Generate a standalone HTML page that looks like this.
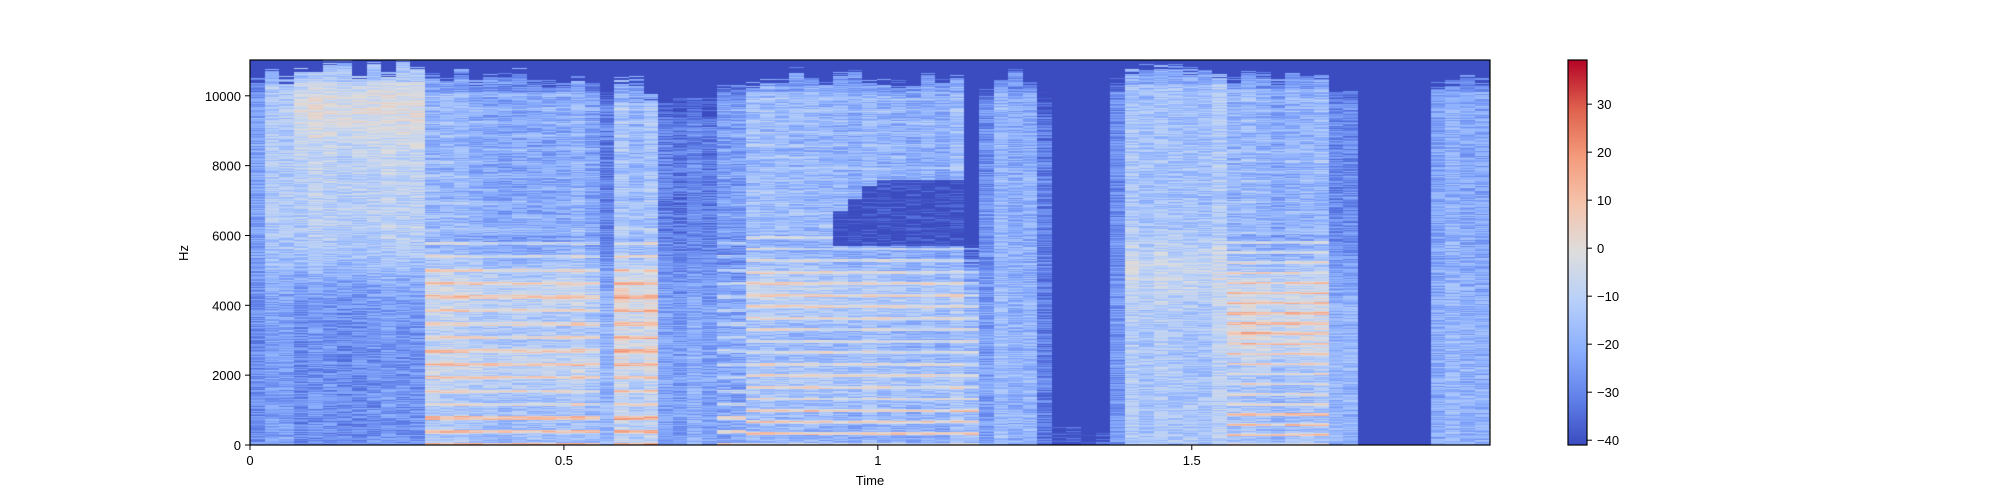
<!DOCTYPE html>
<html><head><meta charset="utf-8"><style>
html,body{margin:0;padding:0;background:#fff;}
#wrap{position:relative;width:2000px;height:500px;overflow:hidden;font-family:"Liberation Sans",sans-serif;}
#spec{position:absolute;left:250px;top:60px;}
svg{position:absolute;left:0;top:0;}
text{font-family:"Liberation Sans",sans-serif;font-size:13px;fill:#000;}
</style></head><body>
<div id="wrap">
<canvas id="spec" width="1240" height="385"></canvas>
<svg id="ov" width="2000" height="500">
<defs><linearGradient id="cmap" x1="0" y1="1" x2="0" y2="0">
<stop offset="0" stop-color="rgb(59,76,192)"/><stop offset="0.125" stop-color="rgb(98,130,234)"/>
<stop offset="0.25" stop-color="rgb(141,176,254)"/><stop offset="0.375" stop-color="rgb(184,208,249)"/>
<stop offset="0.5" stop-color="rgb(221,221,221)"/><stop offset="0.625" stop-color="rgb(245,196,173)"/>
<stop offset="0.75" stop-color="rgb(244,154,123)"/><stop offset="0.875" stop-color="rgb(222,96,77)"/>
<stop offset="1" stop-color="rgb(180,4,38)"/></linearGradient></defs>
<rect x="250" y="60" width="1240" height="385" fill="none" stroke="#000" stroke-width="1.2"/>
<rect x="1568" y="60" width="19" height="385" fill="url(#cmap)" stroke="#000" stroke-width="1.2"/>
<text x="870" y="485" text-anchor="middle">Time</text>
<text x="0" y="0" text-anchor="middle" transform="translate(188,253) rotate(-90)">Hz</text>
<g id="xt"></g><g id="yt"></g><g id="ct"></g>
</svg>
</div>
<script>
// ---- data ----
const xTicks=[0,0.5,1,1.5];
const xTickLabels=["0","0.5","1","1.5"];
const yTicks=[0,2000,4000,6000,8000,10000];
const cbTicks=[-40,-30,-20,-10,0,10,20,30];
const cbLabels=["\u221240","\u221230","\u221220","\u221210","0","10","20","30"];
// segments of the spectrogram (seconds)
const segStart=[0,0.023,0.07,0.27,0.55,0.59,0.66,0.74,0.80,0.93,1.135,1.16,1.18,1.25,1.277,1.37,1.39,1.56,1.72,1.765,1.88];
const segTop=[10300,10700,10800,10500,10100,10200,9800,10300,10500,10500,5600,10300,10500,9800,300,10500,10700,10600,10300,0,10500];
const segLow=[-30,-27,-28,-10,-18,-6,-22,-20,-12,-14,-14,-25,-18,-30,-32,-25,-12,-12,-20,-41,-20];
const segHigh=[-25,-15,-10,-20,-30,-16,-30,-26,-15,-18,-30,-28,-20,-30,-41,-28,-14,-20,-30,-41,-22];
const segF0=[0,0,0,385,0,385,0,385,330,330,330,0,0,0,0,0,0,290,0,0,0];
const segFormA=[0,0,9500,4500,0,4400,0,0,4400,4300,0,0,0,0,0,0,5000,4300,0,0,0];
const segGainA=[0,0,8,10,0,12,0,0,10,8,0,0,0,0,0,0,8,12,0,0,0];
const segFormB=[0,0,0,2300,0,2600,0,0,1800,1800,0,0,0,0,0,0,0,3000,0,0,0];
const segGainB=[0,0,0,8,0,8,0,0,6,6,0,0,0,0,0,0,0,10,0,0,0];
const segHoleLo=[0,0,0,0,0,0,0,0,0,5700,0,0,0,0,0,0,0,0,0,0,0];
const segHoleHi=[0,0,0,0,0,0,0,0,0,7600,0,0,0,0,0,0,0,0,0,0,0];
const tMax=1.975, fMax=11025, vMin=-41, vMax=39.2, hop=0.02322;
// ---- scales ----
const X0=250,X1=1490,Y0=445,Y1=60;
const xs=t=>X0+t/tMax*(X1-X0);
const ys=f=>Y0-f/fMax*(Y0-Y1);
const cs=v=>Y0-(v-vMin)/(vMax-vMin)*(Y0-Y1);
const stops=[[59,76,192],[98,130,234],[141,176,254],[184,208,249],[221,221,221],[245,196,173],[244,154,123],[222,96,77],[180,4,38]];
function cmap(v){let u=(v-vMin)/(vMax-vMin);u=Math.max(0,Math.min(1,u))*8;const i=Math.min(7,Math.floor(u)),r=u-i;const a=stops[i],b=stops[i+1];return [a[0]+(b[0]-a[0])*r,a[1]+(b[1]-a[1])*r,a[2]+(b[2]-a[2])*r];}
function hash(a,b){let h=(a*374761393+b*668265263)|0;h=(h^(h>>>13))*1274126177|0;h=h^(h>>>16);return ((h>>>0)%10000)/10000;}
// ---- spectrogram ----
const cv=document.getElementById('spec'),ctx=cv.getContext('2d');
const img=ctx.createImageData(1240,385);
const nF=Math.ceil(tMax/hop);
for(let fr=0;fr<nF;fr++){
  const t=fr*hop+hop/2;let s=0;for(let k=0;k<segStart.length;k++)if(t>=segStart[k])s=k;
  const px0=Math.round(xs(fr*hop)-X0),px1=Math.min(1240,Math.round(xs((fr+1)*hop)-X0));
  const colOff=(hash(fr,999)-0.5)*6;
  const topJ=(hash(fr,777)-0.5)*500;
  for(let row=0;row<385;row++){
    const f=(385-row-0.5)/385*fMax;let v;
    if(f>segTop[s]+topJ+(hash(fr,row+5000)-0.5)*300) v=-41;
    else{
      const w=1/(1+Math.exp((f-5000)/500));
      v=segLow[s]*w+segHigh[s]*(1-w)+colOff;
      if(segGainA[s])v+=segGainA[s]*Math.exp(-Math.pow((f-segFormA[s])/900,2));
      if(segGainB[s])v+=segGainB[s]*Math.exp(-Math.pow((f-segFormB[s])/700,2));
      if(segF0[s]){const h=f/segF0[s],d=Math.abs(h-Math.round(h));const amp=f<6000?10:3;v+=(d<0.12?amp:-amp*0.5);if(f<1000&&d<0.15)v+=10;}
      if(segHoleHi[s]&&f>segHoleLo[s]&&f<segHoleHi[s]-(t<1.0?(1.0-t)*15000:0))v=-41;
      v+=(hash(fr,row)-0.5)*14;
      if(f>segTop[s]-400)v-=6;
      v=Math.max(vMin,v);
    }
    const c=cmap(v);
    for(let x=px0;x<px1;x++){const o=(row*1240+x)*4;img.data[o]=c[0];img.data[o+1]=c[1];img.data[o+2]=c[2];img.data[o+3]=255;}
  }
}
ctx.putImageData(img,0,0);
// ---- ticks ----
const NS='http://www.w3.org/2000/svg';
function mk(tag,attrs,txt){const e=document.createElementNS(NS,tag);for(const k in attrs)e.setAttribute(k,attrs[k]);if(txt!==undefined)e.textContent=txt;return e;}
const gx=document.getElementById('xt'),gy=document.getElementById('yt'),gc=document.getElementById('ct');
xTicks.forEach((t,i)=>{const x=xs(t);
  const l=mk('line',{x1:x,x2:x,y1:Y0,y2:Y0+5,stroke:'#000'});
  
  gx.appendChild(l);
  const tx=mk('text',{x:x,y:Y0+20,'text-anchor':'middle'},xTickLabels[i]);
  
  gx.appendChild(tx);});
yTicks.forEach(f=>{const y=ys(f);
  const l=mk('line',{x1:X0-5,x2:X0,y1:y,y2:y,stroke:'#000'});
  
  gy.appendChild(l);
  const tx=mk('text',{x:X0-9,y:y+5,'text-anchor':'end'},String(f));
  
  gy.appendChild(tx);});
cbTicks.forEach((v,i)=>{const y=cs(v);
  const l=mk('line',{x1:1587,x2:1592,y1:y,y2:y,stroke:'#000'});
  
  gc.appendChild(l);
  const tx=mk('text',{x:1597,y:y+5},cbLabels[i]);
  
  gc.appendChild(tx);});
</script>
</body></html>
